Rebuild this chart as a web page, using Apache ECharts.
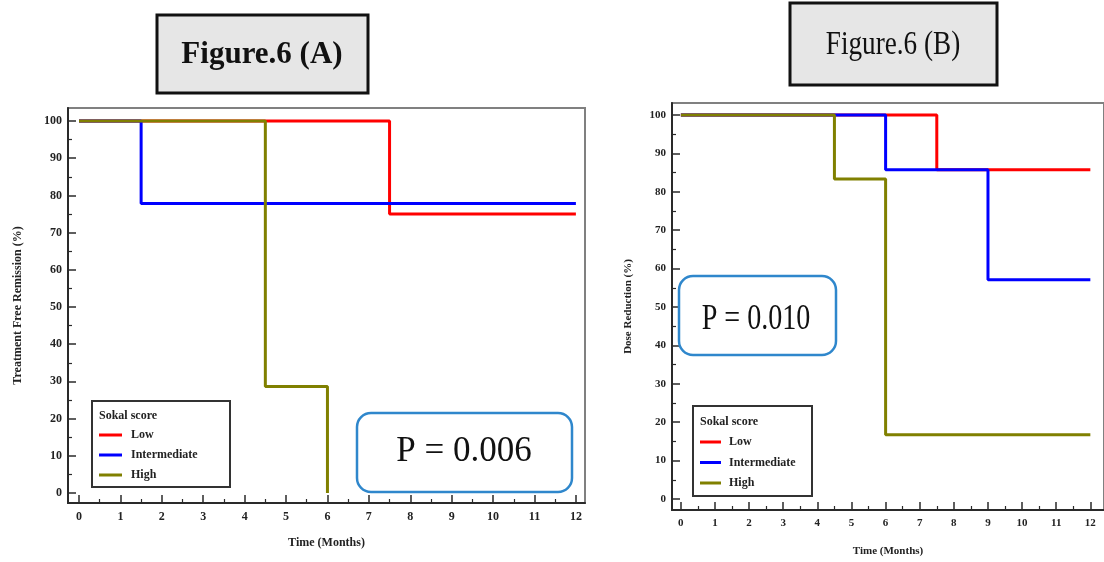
<!DOCTYPE html>
<html><head><meta charset="utf-8">
<script src="https://cdn.jsdelivr.net/npm/echarts@6/dist/echarts.min.js"></script>
<style>html,body{margin:0;padding:0;background:#fff}#c{width:1104px;height:562px}</style>
</head><body><div id="c"></div>
<script>
// ---- data ----
const monthTicks = [0,1,2,3,4,5,6,7,8,9,10,11,12];
const monthMinor = [0.5,1.5,2.5,3.5,4.5,5.5,6.5,7.5,8.5,9.5,10.5,11.5];
const pctTicks = [0,10,20,30,40,50,60,70,80,90,100];
const pctMinor = [5,15,25,35,45,55,65,75,85,95];
const groups = ['Low','Intermediate','High'];
const colors = ['#ff0000','#0000ff','#808000'];
// Figure A: Treatment Free Remission (%)
const A_low_t = [0, 7.5, 12];      const A_low_s = [100, 75, 75];
const A_int_t = [0, 1.5, 12];      const A_int_s = [100, 77.8, 77.8];
const A_high_t = [0, 4.5, 6];      const A_high_s = [100, 28.6, 0];
// Figure B: Dose Reduction (%)
const B_low_t = [0, 7.5, 12];      const B_low_s = [100, 85.7, 85.7];
const B_int_t = [0, 6, 9, 12];     const B_int_s = [100, 85.7, 57.1, 57.1];
const B_high_t = [0, 4.5, 6, 12];  const B_high_s = [100, 83.3, 16.7, 16.7];

const zip = (t, s) => t.map((v, i) => [v, s[i]]);
const FONT = 'Liberation Serif';
const AX = '#2a2a2a';

function majorX(grid, min, max, name, gap, fs) {
  return { type:'value', gridIndex:grid, min, max, position:'bottom',
    name, nameLocation:'middle', nameGap:gap,
    nameTextStyle:{fontFamily:FONT, fontWeight:'bold', fontSize:fs, color:'#222'},
    axisLine:{show:true, onZero:false, lineStyle:{color:AX, width:2}},
    axisTick:{show:true, inside:true, length:8, customValues:monthTicks, lineStyle:{color:AX, width:1.5}},
    axisLabel:{customValues:monthTicks, margin:8, fontFamily:FONT, fontWeight:'bold', fontSize:fs, color:'#222'},
    splitLine:{show:false} };
}
function minorX(grid, min, max) {
  return { type:'value', gridIndex:grid, min, max, position:'bottom',
    axisLine:{show:false, onZero:false},
    axisTick:{show:true, inside:true, length:4, customValues:monthMinor, lineStyle:{color:AX, width:1.2}},
    axisLabel:{show:false}, splitLine:{show:false} };
}
function majorY(grid, min, max, name, gap, fs) {
  return { type:'value', gridIndex:grid, min, max, position:'left',
    name, nameLocation:'middle', nameGap:gap, nameRotate:90,
    nameTextStyle:{fontFamily:FONT, fontWeight:'bold', fontSize:fs, color:'#222'},
    axisLine:{show:true, onZero:false, lineStyle:{color:AX, width:2}},
    axisTick:{show:true, inside:true, length:8, customValues:pctTicks, lineStyle:{color:AX, width:1.5}},
    axisLabel:{customValues:pctTicks, margin:6, fontFamily:FONT, fontWeight:'bold', fontSize:fs, color:'#222'},
    splitLine:{show:false} };
}
function minorY(grid, min, max) {
  return { type:'value', gridIndex:grid, min, max, position:'left',
    axisLine:{show:false, onZero:false},
    axisTick:{show:true, inside:true, length:4, customValues:pctMinor, lineStyle:{color:AX, width:1.2}},
    axisLabel:{show:false}, splitLine:{show:false} };
}
function km(name, idx, xi, yi, data) {
  return { type:'line', name, step:'end', xAxisIndex:xi, yAxisIndex:yi, data,
    symbol:'none', lineStyle:{color:colors[idx], width:3}, itemStyle:{color:colors[idx]}, z:3, animation:false };
}

const chart = echarts.init(document.getElementById('c'), null, {renderer:'canvas'});
chart.setOption({
  backgroundColor:'#fff',
  animation:false,
  grid:[
    {left:68, top:108, width:517, height:395, show:true, borderColor:'#808080', borderWidth:2, backgroundColor:'transparent'},
    {left:672, top:103, width:440, height:408, show:true, borderColor:'#808080', borderWidth:2, backgroundColor:'transparent'}
  ],
  xAxis:[
    majorX(0, -0.266, 12.22, 'Time (Months)', 34, 12),
    minorX(0, -0.266, 12.22),
    majorX(1, -0.26, 12.40, 'Time (Months)', 36, 11),
    minorX(1, -0.26, 12.40)
  ],
  yAxis:[
    majorY(0, -2.69, 103.5, 'Treatment Free Remission (%)', 44, 12),
    minorY(0, -2.69, 103.5),
    majorY(1, -2.86, 103.1, 'Dose Reduction (%)', 38, 11),
    minorY(1, -2.86, 103.1)
  ],
  legend:[
    {data:groups, orient:'vertical', left:99, top:429, padding:0, itemGap:8, icon:'rect', itemWidth:23, itemHeight:3,
     textStyle:{fontFamily:FONT, fontWeight:'bold', fontSize:12, color:'#222', padding:[0,0,0,4]}, selectedMode:false, z:6},
    {data:groups, orient:'vertical', left:700, top:436, padding:0, itemGap:8.5, icon:'rect', itemWidth:21, itemHeight:3,
     textStyle:{fontFamily:FONT, fontWeight:'bold', fontSize:12, color:'#222', padding:[0,0,0,3]}, selectedMode:false, z:6}
  ],
  series:[
    km('Low',0,0,0, zip(A_low_t, A_low_s)),
    km('Intermediate',1,0,0, zip(A_int_t, A_int_s)),
    km('High',2,0,0, zip(A_high_t, A_high_s)),
    km('Low',0,2,2, zip(B_low_t, B_low_s)),
    km('Intermediate',1,2,2, zip(B_int_t, B_int_s)),
    km('High',2,2,2, zip(B_high_t, B_high_s))
  ],
  graphic:[
    // Title boxes
    {type:'rect', shape:{x:157, y:15, width:211, height:78}, style:{fill:'#e6e6e6', stroke:'#111', lineWidth:3}, z:5},
    {type:'text', x:262, y:55, style:{text:'Figure.6 (A)', font:'bold 31px "Liberation Serif"', fill:'#111', align:'center', verticalAlign:'middle'}, z:6},
    {type:'rect', shape:{x:790, y:3, width:207, height:82}, style:{fill:'#e6e6e6', stroke:'#111', lineWidth:3}, z:5},
    {type:'text', x:893, y:45, scaleX:0.8, originX:0, originY:0, style:{text:'Figure.6 (B)', font:'34px "Liberation Serif"', fill:'#111', align:'center', verticalAlign:'middle'}, z:6},
    // Legend boxes
    {type:'rect', shape:{x:92, y:401, width:138, height:86}, style:{fill:'#fff', stroke:'#333', lineWidth:2}, z:4},
    {type:'text', x:99, y:416, style:{text:'Sokal score', font:'bold 12px "Liberation Serif"', fill:'#222', verticalAlign:'middle'}, z:6},
    {type:'rect', shape:{x:693, y:406, width:119, height:90}, style:{fill:'#fff', stroke:'#333', lineWidth:2}, z:4},
    {type:'text', x:700, y:422, style:{text:'Sokal score', font:'bold 12px "Liberation Serif"', fill:'#222', verticalAlign:'middle'}, z:6},
    // P-value boxes
    {type:'rect', shape:{x:357, y:413, width:215, height:79, r:14}, style:{fill:'#fff', stroke:'#2f87cc', lineWidth:2.5}, z:4},
    {type:'text', x:464, y:452, style:{text:'P = 0.006', font:'35px "Liberation Serif"', fill:'#111', align:'center', verticalAlign:'middle'}, z:6},
    {type:'rect', shape:{x:679, y:276, width:157, height:79, r:14}, style:{fill:'#fff', stroke:'#2f87cc', lineWidth:2.5}, z:4},
    {type:'text', x:756, y:320, scaleX:0.78, originX:0, originY:0, style:{text:'P = 0.010', font:'36px "Liberation Serif"', fill:'#111', align:'center', verticalAlign:'middle'}, z:6}
  ]
});
</script></body></html>
